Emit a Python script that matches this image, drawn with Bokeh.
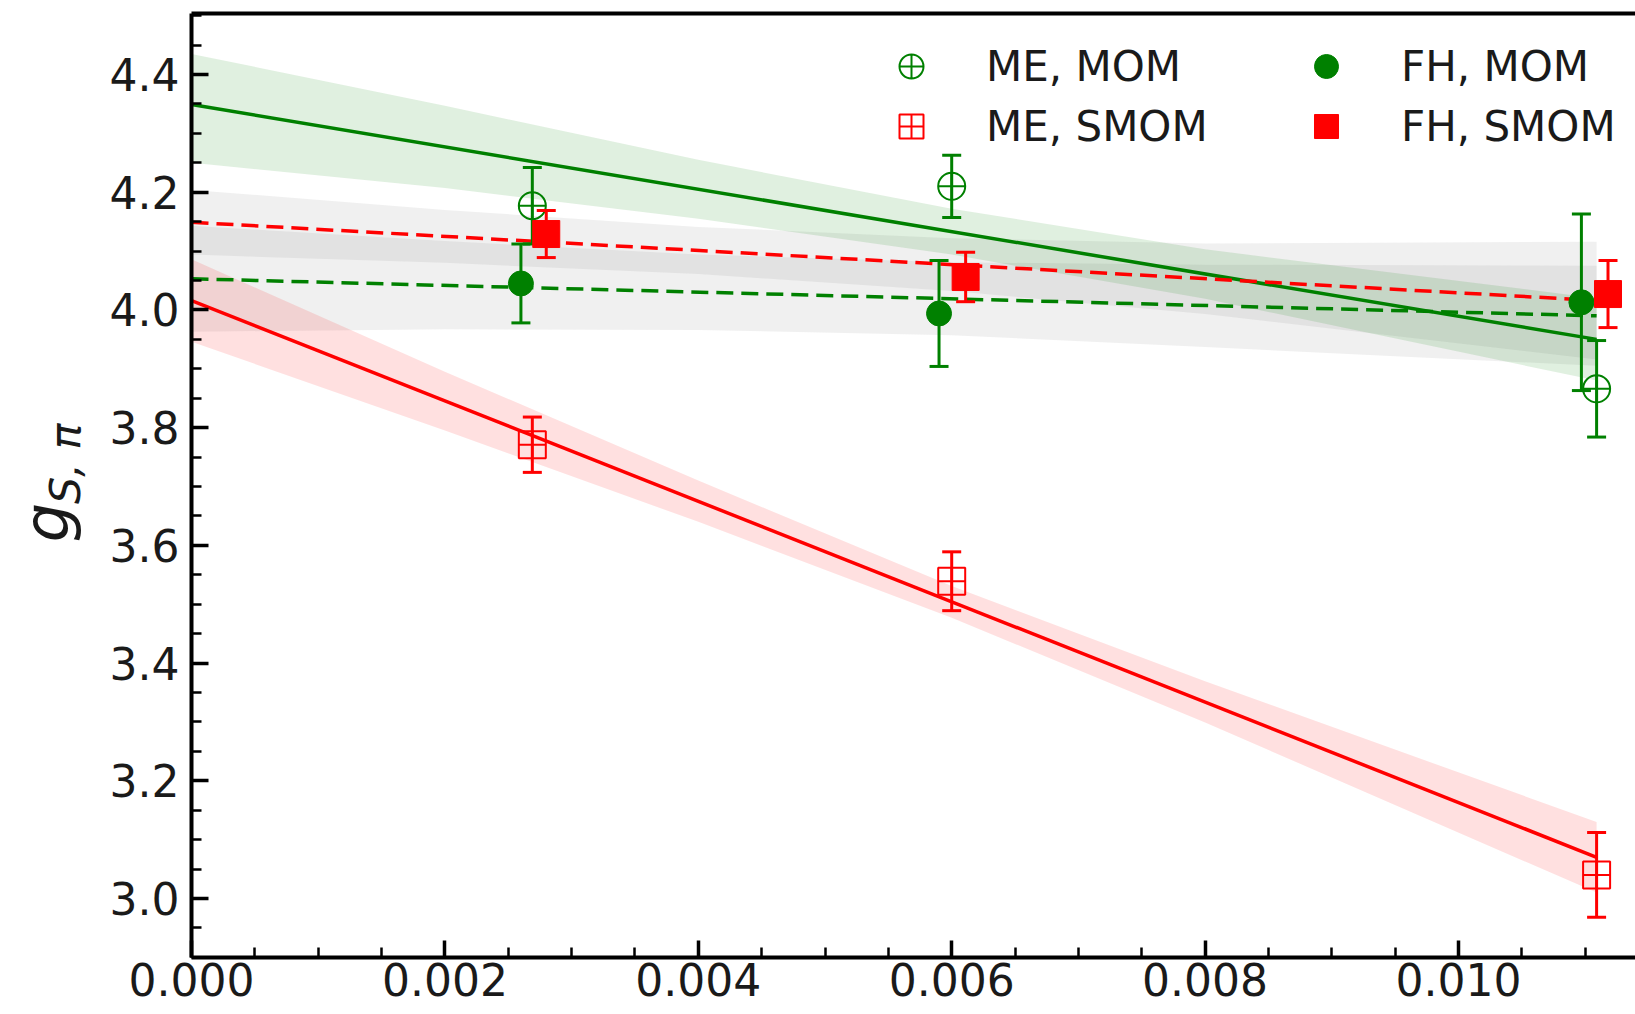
import math
from bokeh.plotting import figure
from bokeh.layouts import row
from bokeh.models import (Range1d, SingleIntervalTicker, PrintfTickFormatter, LinearAxis,
                          FixedTicker, Legend, LegendItem)
from bokeh.core.properties import value
from bokeh.embed import file_html
from bokeh.resources import INLINE

# ---------------- data ----------------
x_me = [0.00269, 0.00600, 0.01109]
me_mom_y = [4.177, 4.210, 3.866]
me_mom_err = [0.065, 0.053, 0.082]
me_smom_y = [3.771, 3.539, 3.040]
me_smom_err = [0.047, 0.050, 0.072]

x_fh_mom = [0.00260, 0.00590, 0.01097]
fh_mom_y = [4.045, 3.994, 4.013]
fh_mom_err = [0.067, 0.090, 0.150]

x_fh_smom = [0.00280, 0.00611, 0.01118]
fh_smom_y = [4.129, 4.056, 4.027]
fh_smom_err = [0.040, 0.042, 0.057]

# fit lines (end points)
fit_x = [0.0, 0.01109]
me_mom_fit = [4.349, 3.950]
me_smom_fit = [4.016, 3.070]
fh_mom_fit = [4.053, 3.990]
fh_smom_fit = [4.149, 4.016]

# fit error bands
band_x = [0.0, 0.002, 0.004, 0.006, 0.008, 0.01109]
me_mom_lo = [4.250, 4.207, 4.155, 4.094, 4.019, 3.880]
me_mom_hi = [4.435, 4.347, 4.255, 4.172, 4.103, 4.020]
me_smom_lo = [3.946, 3.795, 3.640, 3.477, 3.299, 3.010]
me_smom_hi = [4.086, 3.895, 3.710, 3.531, 3.369, 3.130]
fh_smom_lo = [4.094, 4.080, 4.061, 4.032, 3.993, 3.916]
fh_smom_hi = [4.204, 4.170, 4.141, 4.122, 4.113, 4.116]
fh_mom_lo = [3.963, 3.967, 3.966, 3.957, 3.937, 3.905]
fh_mom_hi = [4.143, 4.117, 4.094, 4.081, 4.077, 4.075]

labels = ["ME, MOM", "ME, SMOM", "FH, MOM", "FH, SMOM"]
ylabel_main = "g"
ylabel_sub = "S, π"

GREEN = "#008000"
RED = "#ff0000"
FONT = "DejaVu Sans"
TXT = "#1a1a1a"
H = 1014
LW = 100  # width of the strip holding the y-axis title

# ---- strip with the y-axis title (pixel coordinates) ----
lab = figure(width=LW, height=H, output_backend="svg", toolbar_location=None,
             x_range=Range1d(0, LW), y_range=Range1d(0, H),
             x_axis_location=None, y_axis_location=None,
             min_border_left=0, min_border_right=0, min_border_top=0, min_border_bottom=0)
lab.outline_line_color = None
lab.grid.visible = False
lab.text(x=[46], y=[H - 568], text=[ylabel_main], angle=math.pi / 2,
         text_font=value(FONT), text_font_style="italic", text_font_size="62px",
         text_color=TXT, text_align="left", text_baseline="alphabetic")
lab.text(x=[64], y=[H - 527], text=[ylabel_sub], angle=math.pi / 2,
         text_font=value(FONT), text_font_style="italic", text_font_size="43px",
         text_color=TXT, text_align="left", text_baseline="alphabetic")

# ---- main plot ----
p = figure(width=1635 - LW, height=H, output_backend="svg", toolbar_location=None,
           x_range=Range1d(0.0, 0.011397), y_range=Range1d(2.8997, 4.5037),
           min_border_left=191 - LW, min_border_right=0, min_border_top=13, min_border_bottom=57)
p.outline_line_color = None
p.xgrid.visible = False
p.ygrid.visible = False
p.background_fill_color = "white"

for ax, interval, fmt in ((p.xaxis[0], 0.002, "%.3f"), (p.yaxis[0], 0.2, "%.1f")):
    ax.ticker = SingleIntervalTicker(interval=interval, num_minor_ticks=4)
    ax.formatter = PrintfTickFormatter(format=fmt)
    ax.axis_line_width = 4
    ax.axis_line_color = "black"
    ax.major_tick_in = 17
    ax.major_tick_out = 0
    ax.minor_tick_in = 10
    ax.minor_tick_out = 0
    ax.major_tick_line_width = 3.5
    ax.minor_tick_line_width = 2.5
    ax.major_label_text_font = FONT
    ax.major_label_text_font_size = "44px"
    ax.major_label_text_color = TXT
p.xaxis[0].major_label_standoff = 5
p.yaxis[0].major_label_standoff = 12

top = LinearAxis(ticker=FixedTicker(ticks=[]), axis_line_width=4, axis_line_color="black",
                 major_tick_line_color=None, minor_tick_line_color=None,
                 major_label_text_font_size="0px", major_label_standoff=0)
p.add_layout(top, "above")

# bands
p.varea(x=band_x, y1=fh_mom_lo, y2=fh_mom_hi, fill_color="gray", fill_alpha=0.12)
p.varea(x=band_x, y1=fh_smom_lo, y2=fh_smom_hi, fill_color="gray", fill_alpha=0.12)
p.varea(x=band_x, y1=me_mom_lo, y2=me_mom_hi, fill_color=GREEN, fill_alpha=0.12)
p.varea(x=band_x, y1=me_smom_lo, y2=me_smom_hi, fill_color=RED, fill_alpha=0.12)

# fit lines
p.line(fit_x, me_mom_fit, line_color=GREEN, line_width=3.5)
p.line(fit_x, me_smom_fit, line_color=RED, line_width=3.5)
p.line(fit_x, fh_mom_fit, line_color=GREEN, line_width=3.5, line_dash="17 8")
p.line(fit_x, fh_smom_fit, line_color=RED, line_width=3.5, line_dash="17 8")


def errpoints(xs, ys, es, color, marker, filled, size):
    lo = [y - e for y, e in zip(ys, es)]
    hi = [y + e for y, e in zip(ys, es)]
    p.segment(x0=xs, y0=lo, x1=xs, y1=hi, line_color=color, line_width=3)
    p.scatter(xs, lo, marker="dash", size=19, line_color=color, line_width=3)
    p.scatter(xs, hi, marker="dash", size=19, line_color=color, line_width=3)
    if filled:
        r = p.scatter(xs, ys, marker=marker, size=size, fill_color=color, line_color=color, line_width=1)
    else:
        r = p.scatter(xs, ys, marker=marker, size=size, fill_color=None, line_color=color, line_width=2)
    return r


r1 = errpoints(x_me, me_mom_y, me_mom_err, GREEN, "circle_cross", False, 27)
r2 = errpoints(x_me, me_smom_y, me_smom_err, RED, "square_cross", False, 27)
r3 = errpoints(x_fh_mom, fh_mom_y, fh_mom_err, GREEN, "circle", True, 25)
r4 = errpoints(x_fh_smom, fh_smom_y, fh_smom_err, RED, "square", True, 27)

legend = Legend(items=[LegendItem(label=labels[0], renderers=[r1]),
                       LegendItem(label=labels[1], renderers=[r2]),
                       LegendItem(label=labels[2], renderers=[r3]),
                       LegendItem(label=labels[3], renderers=[r4])],
                ncols=2, location=(690, 801), glyph_width=60, glyph_height=60,
                label_standoff=45, label_width=310, spacing=0, padding=0, margin=0,
                border_line_color=None, background_fill_alpha=0,
                label_text_font=FONT, label_text_font_size="42px", label_text_color=TXT)
p.add_layout(legend)

layout = row(lab, p, spacing=0)
open("out.html", "w").write(file_html(layout, INLINE))
